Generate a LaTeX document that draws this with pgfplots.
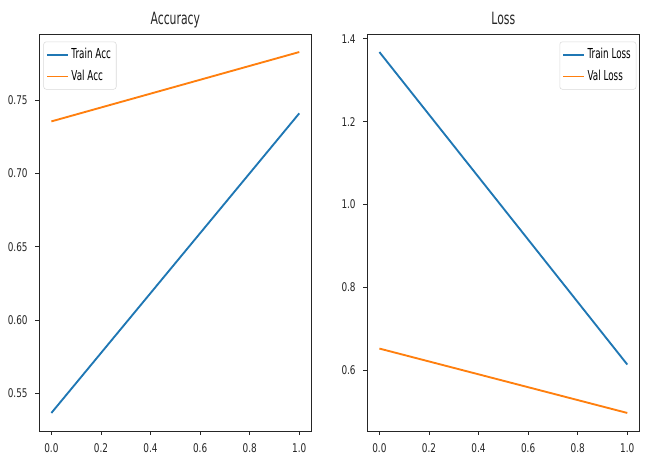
\documentclass[border=0pt]{standalone}
\usepackage{fontspec}
\setmainfont{DejaVu Sans}[FakeStretch=0.64]
\newfontfamily\tickfont{DejaVu Sans}[FakeStretch=0.74]
\usepackage{pgfplots}
\pgfplotsset{compat=1.18}
\definecolor{tabblue}{HTML}{1F77B4}
\definecolor{taborange}{HTML}{FF7F0E}
\pgfplotsset{
  mystyle/.style={
    scale only axis,
    anchor=south west,
    width=204.5pt, height=297.75pt,
    axis line style={black!85, line width=0.7pt},
    tick align=outside,
    major tick length=3pt,
    tick style={black!85, line width=0.6pt},
    xtick pos=bottom, ytick pos=left,
    xmin=-0.05, xmax=1.05,
    xtick={0,0.2,0.4,0.6,0.8,1.0},
    ticklabel style={font=\tickfont\fontsize{9}{10}\selectfont, text=black!85},
    /pgf/number format/assume math mode=true,
    xticklabel style={yshift=-3pt, /pgf/number format/.cd, fixed, fixed zerofill, precision=1},
    title style={font=\fontsize{12.7}{14}\selectfont, anchor=base, at={(0.5,1)}, yshift=0.75pt, text=black!85},
    legend cell align=left,
    legend style={font=\fontsize{10.3}{12.4}\selectfont, draw=black!15, rounded corners=2pt, fill=white, inner xsep=2pt, inner ysep=3pt, row sep=3pt},
    legend image code/.code={\draw[#1] (0pt,0pt) -- (15.5pt,0pt);},
    every axis plot/.append style={line width=1.4pt},
  }
}
\begin{document}
\begin{tikzpicture}
\path[use as bounding box] (0,0) rectangle (487.5pt,342pt);
\begin{axis}[mystyle, at={(29.25pt,18.75pt)},
  title={Accuracy},
  ymin=0.5243, ymax=0.7950,
  ytick={0.55,0.60,0.65,0.70,0.75},
  yticklabel style={xshift=-2pt, /pgf/number format/.cd, fixed, fixed zerofill, precision=2},
  legend style={at={(0.016,0.981)}, anchor=north west}]
\addplot[tabblue] coordinates {(0,0.5366) (1,0.7409)};
\addlegendentry{Train Acc}
\addplot[taborange] coordinates {(0,0.7354) (1,0.7827)};
\addlegendentry{Val Acc}
\end{axis}
\begin{axis}[mystyle, at={(275.25pt,18.75pt)},
  title={Loss},
  ymin=0.4543, ymax=1.4112,
  ytick={0.6,0.8,1.0,1.2,1.4},
  yticklabel style={xshift=-2pt, /pgf/number format/.cd, fixed, fixed zerofill, precision=1},
  legend style={at={(0.988,0.981)}, anchor=north east}]
\addplot[tabblue] coordinates {(0,1.3677) (1,0.6145)};
\addlegendentry{Train Loss}
\addplot[taborange] coordinates {(0,0.6530) (1,0.4978)};
\addlegendentry{Val Loss}
\end{axis}
\end{tikzpicture}
\end{document}
